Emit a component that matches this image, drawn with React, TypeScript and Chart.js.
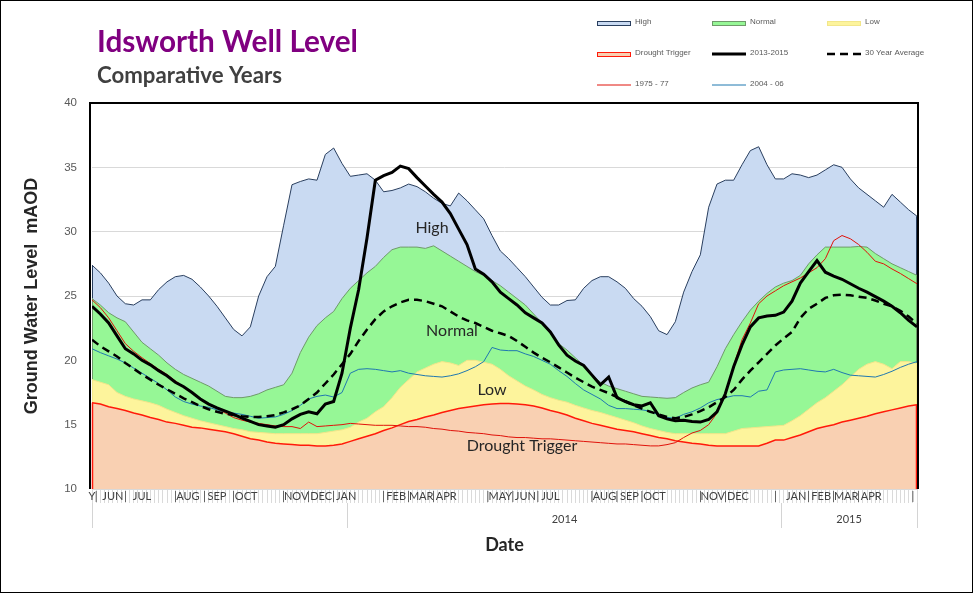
import React, { useEffect, useRef } from 'react';
import { Chart, registerables } from 'chart.js';

Chart.register(...registerables);

// Weekly groundwater levels (mAOD), late May 2013 to end of April 2015
const HIGH = [
  27.4, 26.8, 26.0, 25.0, 24.4, 24.3, 24.7, 24.7, 25.5, 26.1,
  26.5, 26.6, 26.3, 25.7, 25.0, 24.2, 23.3, 22.4, 21.9, 22.6,
  25.0, 26.5, 27.3, 30.5, 33.65, 33.9, 34.1, 34.0, 36.0, 36.5,
  35.3, 34.3, 34.4, 34.5, 34.0, 33.1, 33.2, 33.4, 33.7, 33.5,
  33.1, 32.6, 32.2, 32.0, 33.0, 32.4, 31.7, 31.0, 29.7, 28.5,
  27.9, 27.2, 26.5, 25.7, 24.9, 24.3, 24.3, 24.65, 24.7, 25.6,
  26.2, 26.5, 26.5, 26.1, 25.6, 24.8, 24.2, 23.4, 22.3, 22.0,
  23.0, 25.3, 26.9, 28.2, 31.9, 33.7, 34.0, 34.0, 35.2, 36.3,
  36.6, 35.2, 34.1, 34.1, 34.5, 34.4, 34.2, 34.4, 34.8, 35.2,
  35.0, 34.1, 33.4, 32.9, 32.4, 31.9, 32.9, 32.3, 31.7, 31.2,
];

const NORMAL = [
  24.8, 24.3, 23.7, 23.3, 23.0, 22.2, 21.4, 20.9, 20.4, 19.8,
  19.3, 18.9, 18.6, 18.3, 18.0, 17.6, 17.2, 17.1, 17.1, 17.2,
  17.4, 17.7, 17.9, 18.1, 19.0, 20.6, 21.8, 22.7, 23.3, 23.8,
  24.8, 25.6, 26.2, 26.8, 27.3, 28.0, 28.6, 28.8, 28.8, 28.8,
  28.7, 28.9, 28.5, 28.1, 27.7, 27.3, 26.9, 26.6, 26.2, 25.8,
  25.3, 24.8, 24.3, 23.6, 22.9, 22.1, 21.3, 20.8, 20.2, 19.6,
  18.9, 18.3, 18.0, 17.8, 17.6, 17.4, 17.2, 17.15, 17.1, 17.05,
  17.1, 17.5, 17.85, 18.1, 18.3, 19.5, 20.9, 22.0, 23.0, 23.9,
  24.6, 25.2, 25.7, 26.0, 26.2, 26.6, 27.5, 28.2, 28.8, 28.8,
  28.8, 28.8, 28.85, 28.8, 28.3, 27.9, 27.5, 27.2, 26.9, 26.6,
];

const LOW = [
  18.5, 18.3, 18.1, 17.5, 17.2, 17.0, 16.85, 16.7, 16.5, 16.2,
  15.95, 15.7, 15.5, 15.3, 15.15, 15.0, 14.85, 14.7, 14.6, 14.45,
  14.4, 14.35, 14.3, 14.3, 14.3, 14.3, 14.3, 14.3, 14.4, 14.5,
  14.6, 14.8, 15.2, 15.5, 16.0, 16.4, 17.1, 17.9, 18.5, 19.1,
  19.4, 19.7, 19.9, 19.8, 19.6, 20.0, 20.0, 19.85, 19.7, 19.3,
  18.8, 18.4, 18.0, 17.7, 17.35, 17.1, 16.9, 16.75, 16.5, 16.3,
  16.1, 15.95, 15.75, 15.55, 15.35, 15.15, 14.9, 14.7, 14.55, 14.4,
  14.3, 14.3, 14.3, 14.3, 14.3, 14.3, 14.3, 14.5, 14.7, 14.75,
  14.8, 14.85, 14.9, 14.95, 15.3, 15.7, 16.2, 16.7, 17.1, 17.6,
  18.1, 18.7, 19.3, 19.7, 19.9, 19.7, 19.35, 19.9, 19.9, 19.75,
];

const DROUGHT_TRIGGER = [
  16.7, 16.6, 16.4, 16.25, 16.1, 15.9, 15.75, 15.55, 15.4, 15.2,
  15.1, 14.95, 14.8, 14.75, 14.65, 14.55, 14.45, 14.3, 14.1, 13.9,
  13.8, 13.65, 13.55, 13.5, 13.45, 13.4, 13.4, 13.35, 13.35, 13.4,
  13.5, 13.7, 13.9, 14.1, 14.3, 14.55, 14.75, 15.0, 15.25, 15.4,
  15.6, 15.75, 15.95, 16.1, 16.25, 16.35, 16.45, 16.55, 16.6, 16.65,
  16.65, 16.6, 16.55, 16.45, 16.3, 16.1, 15.95, 15.75, 15.5, 15.3,
  15.1, 14.95, 14.8, 14.65, 14.55, 14.45, 14.3, 14.15, 14.0, 13.9,
  13.75, 13.65, 13.55, 13.5, 13.4, 13.35, 13.35, 13.35, 13.35, 13.35,
  13.35, 13.55, 13.8, 13.8, 14.0, 14.2, 14.45, 14.7, 14.85, 15.0,
  15.2, 15.35, 15.5, 15.65, 15.85, 16.0, 16.15, 16.3, 16.45, 16.55,
];

const LEVEL_2013_15 = [
  24.2, 23.6, 22.9, 21.9, 20.9, 20.5, 20.0, 19.65, 19.2, 18.8,
  18.3, 17.95, 17.5, 17.0, 16.6, 16.3, 16.05, 15.8, 15.5, 15.25,
  15.0, 14.9, 14.8, 15.0, 15.45, 15.8, 16.0, 15.85, 16.6, 16.8,
  19.0, 22.5, 25.5, 29.5, 34.0, 34.35, 34.6, 35.1, 34.9, 34.2,
  33.55, 32.9, 32.3, 31.4, 30.2, 29.0, 27.1, 26.7, 26.1, 25.3,
  24.8, 24.3, 23.7, 23.3, 22.9, 22.2, 21.2, 20.4, 19.95, 19.6,
  18.85, 18.1, 18.7, 17.1, 16.8, 16.55, 16.45, 16.7, 15.7, 15.45,
  15.3, 15.35, 15.25, 15.2, 15.4, 16.0, 17.4, 19.5, 21.2, 22.6,
  23.3, 23.45, 23.5, 23.75, 24.6, 26.0, 26.9, 27.75, 26.85, 26.55,
  26.3, 25.95, 25.6, 25.3, 24.95, 24.6, 24.2, 23.7, 23.1, 22.6,
];

const AVERAGE_30Y = [
  21.6, 21.1, 20.7, 20.3, 19.8, 19.35, 18.9, 18.5, 18.1, 17.75,
  17.4, 17.05, 16.75, 16.45, 16.2, 16.0, 15.85, 15.75, 15.65, 15.6,
  15.6, 15.65, 15.75, 15.95, 16.2, 16.5, 17.0, 17.5, 18.2, 18.9,
  19.7, 20.5, 21.5, 22.4, 23.2, 23.8, 24.2, 24.5, 24.7, 24.7,
  24.6, 24.4, 24.2, 23.8, 23.4, 23.1, 22.9, 22.6, 22.3, 22.1,
  21.9, 21.5, 21.05, 20.6, 20.2, 19.85, 19.45, 19.05, 18.65, 18.3,
  17.95, 17.7, 17.45, 17.15, 16.8, 16.5, 16.25, 16.0, 15.8, 15.6,
  15.5, 15.6, 15.8, 16.05, 16.35, 16.75, 17.15, 17.7, 18.5, 19.2,
  19.85, 20.5, 21.15, 21.7, 22.2, 23.3, 24.0, 24.4, 24.85, 25.05,
  25.1, 25.05, 24.95, 24.85, 24.65, 24.4, 24.2, 23.85, 23.4, 22.85,
];

const LEVEL_1975_77 = [
  24.7, 24.1, 23.3, 22.3, 21.3, 20.7, 20.2, 19.75, 19.3, 18.9,
  18.4, 17.95, 17.45, 17.0, 16.6, 16.25, 15.9, 15.55, 15.35, 15.2,
  15.1, 15.0, 14.9, 14.85, 14.85, 14.7, 15.2, 14.85, 14.9, 14.95,
  15.0, 15.1, 15.05, 15.0, 14.95, 14.95, 14.95, 14.9, 14.85, 14.85,
  14.8, 14.7, 14.65, 14.55, 14.5, 14.4, 14.35, 14.3, 14.2, 14.15,
  14.05, 14.0, 14.0, 13.95, 13.9, 13.9, 13.85, 13.8, 13.75, 13.7,
  13.65, 13.6, 13.55, 13.5, 13.5, 13.45, 13.4, 13.35, 13.35, 13.45,
  13.6, 14.0, 14.35, 14.55, 15.0, 15.9, 17.4, 19.6, 21.6, 22.9,
  24.4, 25.0, 25.4, 25.8, 26.1, 26.4, 26.8, 27.2, 27.9, 29.3,
  29.7, 29.45, 29.0, 28.4, 27.7, 27.5, 27.1, 26.75, 26.35, 25.95,
];

const LEVEL_2004_06 = [
  20.9, 20.6, 20.35, 20.1, 19.8, 19.4, 19.0, 18.6, 18.2, 17.7,
  17.15, 16.8, 16.6, 16.45, 16.35, 16.15, 16.0, 15.9, 15.8, 15.65,
  15.5, 15.55, 15.6, 15.8, 16.1, 16.5, 17.0, 17.2, 17.3, 17.15,
  17.5, 19.0, 19.3, 19.35, 19.3, 19.2, 19.1, 19.2, 19.0, 18.9,
  18.8, 18.75, 18.7, 18.8, 18.95, 19.2, 19.5, 19.9, 21.0, 20.8,
  20.75, 20.75, 20.5, 20.3, 20.0, 19.7, 19.2, 18.75, 18.2, 17.7,
  17.35, 17.0, 16.5, 16.25, 16.25, 16.2, 16.15, 16.05, 15.75, 15.55,
  15.5, 15.8, 16.0, 16.3, 16.7, 16.95, 17.1, 17.25, 17.25, 17.15,
  17.6, 17.7, 19.1, 19.25, 19.3, 19.35, 19.25, 19.15, 19.1, 19.3,
  19.05, 18.85, 18.8, 18.75, 18.7, 18.9, 19.15, 19.45, 19.7, 19.9,
];

// Month labels and separators along the week axis: [week, text]
const MONTH_TICKS: [number, string][] = [
  [0, 'Y'], [0.5, '|'], [2.5, 'JUN'], [4, '|'], [6, 'JUL'],
  [10, '|'], [11.5, 'AUG'], [13.5, '|'], [15, 'SEP'], [17, '|'], [18.5, 'OCT'],
  [23, '|'], [24.5, 'NOV'], [26, '|'], [27.5, 'DEC'], [29, '|'], [30.5, 'JAN'],
  [35, '|'], [36.5, 'FEB'], [38, '|'], [39.5, 'MAR'], [41, '|'], [42.5, 'APR'],
  [47.5, '|'], [49, 'MAY'], [50.5, '|'], [52, 'JUN'], [53.5, '|'], [55, 'JUL'],
  [60, '|'], [61.5, 'AUG'], [63, '|'], [64.5, 'SEP'], [66, '|'], [67.5, 'OCT'],
  [73, '|'], [74.5, 'NOV'], [76, '|'], [77.5, 'DEC'],
  [82, '|'], [84.5, 'JAN'], [86, '|'], [87.5, 'FEB'], [89, '|'], [90.5, 'MAR'], [92, '|'], [93.5, 'APR'],
  [98.5, '|'],
];

// Year bands along the week axis
const YEAR_BOUNDS = [0, 30.7, 82.7, 99];
const YEAR_NAMES = ['', '2014', '2015'];

const monthLookup = new Map(MONTH_TICKS.map(([w, t]) => [w, t] as [number, string]));
const yearLabelTicks = YEAR_NAMES.map((name, i) => ({
  value: (YEAR_BOUNDS[i] + YEAR_BOUNDS[i + 1]) / 2,
  name,
}));

// Each band's outline runs down to the band drawn in front of it
const AREA_BASE: Record<string, number[] | null> = {
  High: NORMAL,
  Normal: LOW,
  Low: DROUGHT_TRIGGER,
  'Drought Trigger': null,
};

const CALIBRI = 'Lato, "Open Sans", sans-serif';
const ARIAL = '"Liberation Sans", Arial, sans-serif';

function fitText(ctx: CanvasRenderingContext2D, text: string, weight: string, width: number) {
  ctx.font = `${weight} 30px ${CALIBRI}`;
  const w = ctx.measureText(text).width;
  const size = (30 * width) / w;
  ctx.font = `${weight} ${size.toFixed(2)}px ${CALIBRI}`;
}

const decor = {
  id: 'decor',
  beforeDraw(chart: any) {
    const { ctx, width, height } = chart;
    ctx.save();
    ctx.fillStyle = '#ffffff';
    ctx.fillRect(0, 0, width, height);
    ctx.restore();
  },
  afterDatasetDraw(chart: any, args: any) {
    const ds: any = chart.data.datasets[args.index];
    if (!(ds.label in AREA_BASE)) return;
    const base = AREA_BASE[ds.label];
    const { ctx, chartArea, scales } = chart;
    const xs = scales.x;
    const ys = scales.y;
    const n = ds.data.length;
    ctx.save();
    ctx.strokeStyle = ds.borderColor;
    ctx.lineWidth = ds.borderWidth;
    [
      [0, 0.5],
      [n - 1, -0.5],
    ].forEach(([i, nudge]) => {
      const px = xs.getPixelForValue(i) + nudge;
      const top = ys.getPixelForValue(ds.data[i].y);
      const bottom = base ? ys.getPixelForValue(base[i]) : chartArea.bottom;
      ctx.beginPath();
      ctx.moveTo(px, top);
      ctx.lineTo(px, bottom);
      ctx.stroke();
    });
    ctx.restore();
  },
  afterDraw(chart: any) {
    const { ctx, chartArea, scales } = chart;
    const xs = scales.x;
    const ys = scales.y;
    ctx.save();

    // plot frame
    ctx.strokeStyle = '#000000';
    ctx.lineWidth = 2;
    ctx.beginPath();
    ctx.moveTo(chartArea.left - 2, chartArea.bottom);
    ctx.lineTo(chartArea.left - 2, chartArea.top);
    ctx.lineTo(chartArea.right + 1, chartArea.top);
    ctx.lineTo(chartArea.right + 1, chartArea.bottom);
    ctx.stroke();

    // band names
    ctx.fillStyle = '#262626';
    ctx.font = `16px ${CALIBRI}`;
    ctx.textAlign = 'center';
    ctx.textBaseline = 'middle';
    const bandNames: [string, number, number][] = [
      ['High', 40.8, 30.3],
      ['Normal', 43.2, 22.3],
      ['Low', 48.0, 17.7],
      ['Drought Trigger', 51.6, 13.35],
    ];
    bandNames.forEach(([t, wx, wy]) => {
      ctx.fillText(t, xs.getPixelForValue(wx), ys.getPixelForValue(wy));
    });

    // titles
    ctx.textAlign = 'left';
    ctx.textBaseline = 'alphabetic';
    ctx.fillStyle = '#800080';
    fitText(ctx, 'Idsworth Well Level', 'bold', 261);
    ctx.fillText('Idsworth Well Level', 97, 52);
    ctx.fillStyle = '#404040';
    fitText(ctx, 'Comparative Years', 'bold', 185);
    ctx.fillText('Comparative Years', 97, 83);

    // legend, three columns
    const cols = [597, 712, 827];
    const rows = [23, 54, 85];
    ctx.font = `8px ${ARIAL}`;
    ctx.textBaseline = 'middle';
    chart.data.datasets.forEach((ds: any, i: number) => {
      const sx = cols[i % 3];
      const sy = rows[Math.floor(i / 3)];
      if (ds.fill) {
        ctx.fillStyle = ds.backgroundColor;
        ctx.fillRect(sx, sy - 2, 34, 4);
        ctx.strokeStyle = ds.borderColor;
        ctx.lineWidth = 1;
        ctx.setLineDash([]);
        ctx.strokeRect(sx + 0.5, sy - 2 + 0.5, 33, 4);
      } else {
        ctx.strokeStyle = ds.borderColor;
        ctx.lineWidth = Math.max(ds.borderWidth, 1);
        ctx.setLineDash(ds.borderDash || []);
        ctx.beginPath();
        ctx.moveTo(sx, sy);
        ctx.lineTo(sx + 34, sy);
        ctx.stroke();
        ctx.setLineDash([]);
      }
      ctx.fillStyle = '#595959';
      ctx.fillText(ds.label, sx + 38, sy - 1);
    });

    // outer border
    ctx.strokeStyle = '#000000';
    ctx.lineWidth = 1;
    ctx.strokeRect(0.5, 0.5, chart.width - 1, chart.height - 1);
    ctx.restore();
  },
};

export default function App() {
  const ref = useRef<HTMLCanvasElement>(null);

  useEffect(() => {
    const canvas = ref.current;
    if (!canvas) return;
    const pts = (arr: number[]) => arr.map((y, i) => ({ x: i, y }));
    const area = (label: string, data: number[], bg: string, border: string, bw: number, order: number) => ({
      label,
      data: pts(data),
      backgroundColor: bg,
      borderColor: border,
      borderWidth: bw,
      fill: 'start',
      pointRadius: 0,
      tension: 0,
      order,
    });
    const line = (label: string, data: number[], color: string, bw: number, order: number, dash?: number[]) => ({
      label,
      data: pts(data),
      borderColor: color,
      backgroundColor: color,
      borderWidth: bw,
      borderDash: dash,
      fill: false,
      pointRadius: 0,
      tension: 0,
      order,
    });

    const chart = new Chart(canvas, {
      type: 'line',
      data: {
        datasets: [
          area('High', HIGH, '#c9daf2', '#2a3f5f', 1, 8),
          area('Normal', NORMAL, '#96f796', '#6f9a6a', 1, 7),
          area('Low', LOW, '#fdf49c', '#f2e68a', 1, 6),
          area('Drought Trigger', DROUGHT_TRIGGER, '#f9d0b2', '#ff1a0a', 1.5, 5),
          line('2013-2015', LEVEL_2013_15, '#000000', 3, 1),
          line('30 Year Average', AVERAGE_30Y, '#000000', 2.5, 2, [8, 5]),
          line('1975 - 77', LEVEL_1975_77, '#e0120a', 1, 4),
          line('2004 - 06', LEVEL_2004_06, '#1f78b0', 1, 3),
        ] as any,
      },
      options: {
        responsive: false,
        animation: false,
        events: [],
        layout: { padding: { left: 0, right: 56, top: 103, bottom: 0 } },
        plugins: {
          legend: { display: false },
          tooltip: { enabled: false },
          title: { display: false },
        },
        scales: {
          x: {
            type: 'linear',
            position: 'bottom',
            weight: 1,
            min: 0,
            max: HIGH.length - 1,
            grid: {
              drawOnChartArea: false,
              drawTicks: true,
              tickLength: 14,
              color: '#dadada',
              lineWidth: 1,
            },
            border: { display: false },
            ticks: {
              stepSize: 0.5,
              maxTicksLimit: 1000,
              autoSkip: false,
              maxRotation: 0,
              minRotation: 0,
              padding: -13,
              color: '#404040',
              font: { family: CALIBRI, size: 11 },
              callback: (v: any) => monthLookup.get(Math.round(Number(v) * 2) / 2) ?? '',
            },
            afterFit: (s: any) => {
              s.height = 14;
              s.paddingLeft = 0;
              s.paddingRight = 0;
            },
          },
          xy: {
            type: 'linear',
            axis: 'x',
            position: 'bottom',
            weight: 2,
            min: 0,
            max: HIGH.length - 1,
            afterBuildTicks: (s: any) => {
              s.ticks = [
                ...YEAR_BOUNDS.map((v) => ({ value: v })),
                ...yearLabelTicks.map((t) => ({ value: t.value })),
              ].sort((a, b) => a.value - b.value);
            },
            grid: {
              drawOnChartArea: false,
              drawTicks: true,
              tickLength: 25,
              lineWidth: 1,
              color: (c: any) => (c.tick && YEAR_BOUNDS.includes(c.tick.value) ? '#d4d4d4' : 'rgba(0,0,0,0)'),
            },
            border: { display: false },
            ticks: {
              autoSkip: false,
              maxRotation: 0,
              minRotation: 0,
              padding: -15,
              color: '#404040',
              font: { family: CALIBRI, size: 11 },
              callback: (v: any) => {
                const hit = yearLabelTicks.find((t) => Math.abs(t.value - Number(v)) < 1e-6);
                return hit ? hit.name : '';
              },
            },
            title: {
              display: true,
              text: 'Date',
              color: '#262626',
              font: { family: CALIBRI, size: 18, weight: 'bold' },
              padding: { top: 0, bottom: 37 },
            },
            afterFit: (s: any) => {
              s.height = 90;
              s.paddingLeft = 0;
              s.paddingRight = 0;
            },
          },
          y: {
            type: 'linear',
            min: 10,
            max: 40,
            grid: { color: '#d9d9d9', drawTicks: false, lineWidth: 1 },
            border: { display: false },
            ticks: {
              stepSize: 5,
              padding: 15,
              color: '#595959',
              font: { family: ARIAL, size: 11.5 },
            },
            title: {
              display: true,
              text: 'Ground Water Level  mAOD',
              color: '#262626',
              font: { family: ARIAL, size: 18, weight: 'bold' },
              padding: { top: 21, bottom: 0 },
            },
            afterFit: (s: any) => {
              s.width = 92;
              s.paddingTop = 0;
              s.paddingBottom = 0;
            },
          },
        },
      } as any,
      plugins: [decor],
    });
    return () => chart.destroy();
  }, []);

  return (
    <div style={{ position: 'absolute', left: 0, top: 0, width: 973, height: 593, background: '#ffffff' }}>
      <canvas ref={ref} width={973} height={593} style={{ display: 'block' }} />
    </div>
  );
}
